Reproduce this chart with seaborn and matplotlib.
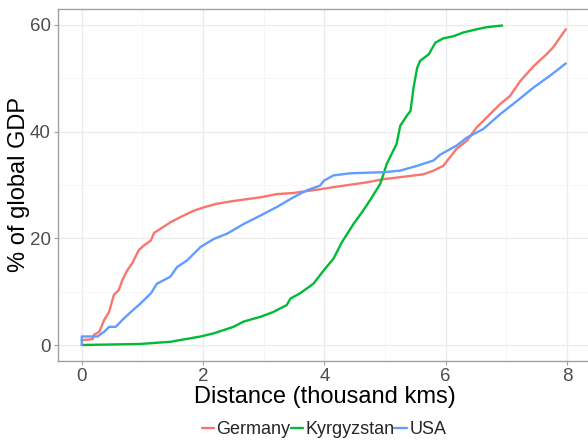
import pandas as pd
import seaborn as sns
import matplotlib.pyplot as plt
from matplotlib.ticker import MultipleLocator

# data (distance in thousand kms, cumulative % of global GDP)
germany_x = [0.0, 0.18, 0.2, 0.29, 0.37, 0.45, 0.53, 0.61, 0.67, 0.75, 0.83,
             0.94, 1.03, 1.14, 1.19, 1.3, 1.46, 1.63, 1.85, 2.01, 2.23, 2.5,
             2.95, 3.22, 3.49, 3.61, 3.93, 4.15, 4.7, 4.98, 5.63, 5.8, 5.96,
             6.07, 6.18, 6.35, 6.51, 6.68, 6.9, 7.06, 7.23, 7.45, 7.66, 7.77,
             7.98]
germany_y = [0.9, 1.1, 1.9, 2.5, 4.7, 6.2, 9.4, 10.3, 12.2, 14.0, 15.3,
             17.8, 18.7, 19.6, 21.0, 21.8, 23.0, 24.0, 25.2, 25.8, 26.5, 27.0,
             27.7, 28.3, 28.5, 28.7, 29.2, 29.6, 30.5, 31.1, 32.0, 32.7, 33.6,
             35.2, 36.8, 38.3, 40.8, 42.7, 45.2, 46.7, 49.5, 52.3, 54.5, 55.8,
             59.2]

kyrgyzstan_x = [0.0, 0.97, 1.46, 1.96, 2.18, 2.5, 2.67, 2.95, 3.16, 3.38,
                3.44, 3.6, 3.82, 3.99, 4.15, 4.29, 4.48, 4.62, 4.75, 4.92,
                5.03, 5.19, 5.25, 5.36, 5.42, 5.47, 5.53, 5.58, 5.72, 5.83,
                5.96, 6.13, 6.29, 6.51, 6.68, 6.93]
kyrgyzstan_y = [0.0, 0.2, 0.6, 1.6, 2.2, 3.4, 4.4, 5.3, 6.2, 7.5,
                8.7, 9.7, 11.5, 14.0, 16.2, 19.3, 22.7, 24.9, 27.1, 30.2,
                34.0, 37.7, 41.1, 43.0, 43.9, 48.3, 52.0, 53.3, 54.5, 56.7,
                57.5, 57.9, 58.6, 59.2, 59.6, 59.9]

usa_x = [0.0, 0.0, 0.26, 0.37, 0.45, 0.56, 0.67, 0.81, 0.97, 1.14, 1.24,
         1.46, 1.57, 1.74, 1.96, 2.18, 2.4, 2.67, 2.95, 3.22, 3.49, 3.71,
         3.93, 3.99, 4.15, 4.43, 4.98, 5.25, 5.53, 5.8, 5.91, 6.18, 6.35,
         6.62, 6.9, 7.18, 7.45, 7.72, 7.98]
usa_y = [0.0, 1.6, 1.6, 2.5, 3.4, 3.4, 4.7, 6.2, 7.8, 9.7, 11.5,
         12.8, 14.6, 15.9, 18.4, 19.9, 20.9, 22.7, 24.3, 25.9, 27.7, 29.0,
         29.9, 30.8, 31.8, 32.2, 32.4, 32.7, 33.6, 34.6, 35.7, 37.4, 38.9,
         40.5, 43.3, 45.8, 48.3, 50.5, 52.8]

countries = ['Germany', 'Kyrgyzstan', 'USA']
colors = ['#F8766D', '#00BA38', '#619CFF']


def build_frame():
    parts = []
    for name, xs, ys in zip(countries,
                            [germany_x, kyrgyzstan_x, usa_x],
                            [germany_y, kyrgyzstan_y, usa_y]):
        parts.append(pd.DataFrame({'distance': xs, 'gdp': ys, 'country': name}))
    return pd.concat(parts, ignore_index=True)


def main():
    data = build_frame()
    sns.set_theme(style='white')
    plt.rcParams['font.family'] = ['Liberation Sans', 'DejaVu Sans']

    fig = plt.figure(figsize=(5.88, 4.41), dpi=100)
    # panel runs past the right edge of the picture, as in the reference
    ax = fig.add_axes([57.5 / 588, 1 - 361 / 441, (591.3 - 57.5) / 588, (361 - 9) / 441])

    sns.lineplot(data=data, x='distance', y='gdp', hue='country',
                 hue_order=countries, palette=colors, sort=False,
                 estimator=None, linewidth=1.7, ax=ax)

    ax.set_xlim(-0.4, 8.4)
    ax.set_ylim(-3, 63)
    ax.xaxis.set_major_locator(MultipleLocator(2))
    ax.yaxis.set_major_locator(MultipleLocator(20))
    ax.xaxis.set_minor_locator(MultipleLocator(1))
    ax.yaxis.set_minor_locator(MultipleLocator(10))
    ax.grid(which='major', color='#ebebeb', linewidth=0.9)
    ax.grid(which='minor', color='#f5f5f5', linewidth=0.6)
    ax.set_axisbelow(True)

    for side in ['left', 'bottom', 'top', 'right']:
        ax.spines[side].set_color('#a0a0a0')
        ax.spines[side].set_linewidth(1.0)

    ax.tick_params(which='major', length=3, width=0.8, color='#a0a0a0',
                   labelsize=13.5, labelcolor='#4d4d4d', pad=2,
                   bottom=True, left=True)
    ax.tick_params(which='minor', length=0)

    ax.set_xlabel('Distance (thousand kms)', fontsize=17, color='black', labelpad=1)
    ax.set_ylabel('% of global GDP', fontsize=17, color='black')
    ax.yaxis.set_label_coords(-0.052, 0.5)

    handles, labels = ax.get_legend_handles_labels()
    ax.legend(handles, labels, loc='center', bbox_to_anchor=(324 / 588, 1 - 430 / 441),
              bbox_transform=fig.transFigure, ncol=3, frameon=False,
              fontsize=13, handlelength=0.7, handletextpad=0.12,
              columnspacing=0.0, borderaxespad=0, borderpad=0)

    fig.savefig('out.png', dpi=100)


if __name__ == '__main__':
    main()
